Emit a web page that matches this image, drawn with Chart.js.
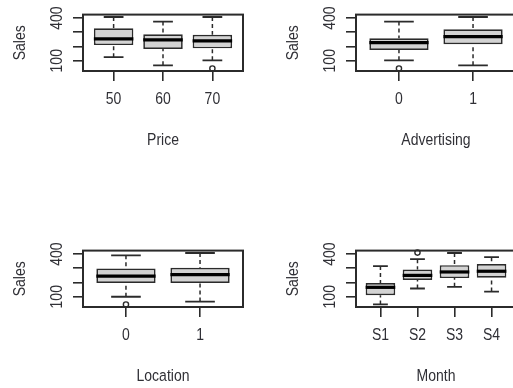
<!DOCTYPE html>
<html>
<head>
<meta charset="utf-8">
<script src="https://cdn.jsdelivr.net/npm/chart.js@4.4.1/dist/chart.umd.min.js"></script>
<style>
  html, body { margin: 0; padding: 0; background: #ffffff; }
  body { position: relative; width: 513px; height: 388px; overflow: hidden; }
  canvas { position: absolute; }
</style>
</head>
<body>
<canvas id="pricePanel"></canvas>
<canvas id="advertisingPanel"></canvas>
<canvas id="locationPanel"></canvas>
<canvas id="monthPanel"></canvas>
<script>
// Sales by Price
const priceCategories = ['50', '60', '70'];
const priceLow      = [125,  68, 103];
const priceQ1       = [210, 183, 187];
const priceMedian   = [253, 247, 240];
const priceQ3       = [328, 286, 283];
const priceHigh     = [407, 375, 407];
const priceOutliers = [[], [], [46]];

// Sales by Advertising
const advertisingCategories = ['0', '1'];
const advertisingLow      = [103,  68];
const advertisingQ1       = [176, 216];
const advertisingMedian   = [227, 270];
const advertisingQ3       = [258, 321];
const advertisingHigh     = [375, 407];
const advertisingOutliers = [[46], []];

// Sales by Location
const locationCategories = ['0', '1'];
const locationLow      = [100,  66];
const locationQ1       = [197, 197];
const locationMedian   = [245, 255];
const locationQ3       = [298, 303];
const locationHigh     = [391, 407];
const locationOutliers = [[46], []];

// Sales by Month
const monthCategories = ['S1', 'S2', 'S3', 'S4'];
const monthLow      = [ 46, 158, 170, 136];
const monthQ1       = [110, 218, 231, 233];
const monthMedian   = [166, 250, 274, 279];
const monthQ3       = [197, 291, 322, 330];
const monthHigh     = [315, 364, 407, 378];
const monthOutliers = [[], [410], [], []];

// Shared vertical axis
const salesTicks = [100, 200, 300, 400];
const salesTickLabels = ['100', '', '', '400'];
const salesMin = 28;
const salesMax = 424;
const salesTitle = 'Sales';

const INK = '#2b2b2b';
const TEXT_INK = '#303036';
const BOX_FILL = '#d3d3d3';
const FONT = '14px "Liberation Sans", Arial, sans-serif';
const TEXT_STRETCH = 1.12;

// Panel geometry (canvas-relative)
const PANEL_W = 273, PANEL_H = 160;
const PLOT_LEFT = 83, PLOT_RIGHT = 243, PLOT_TOP = 14.6, PLOT_BOTTOM = 71;

function drawText(ctx, text, x, y, rotated) {
  ctx.save();
  ctx.translate(x, y);
  if (rotated) ctx.rotate(-Math.PI / 2);
  ctx.scale(1, TEXT_STRETCH);
  ctx.fillText(text, 0, 0);
  ctx.restore();
}

const boxplotExtras = {
  id: 'boxplotExtras',
  afterDatasetsDraw(chart) {
    const ctx = chart.ctx;
    const xs = chart.scales.x, ys = chart.scales.y;
    const st = chart.options.plugins.boxplotExtras;
    const half = Math.abs(xs.getPixelForValue(1.4) - xs.getPixelForValue(1));
    ctx.save();
    st.categories.forEach((c, i) => {
      const cx = xs.getPixelForValue(i + 1);
      const yLo = ys.getPixelForValue(st.low[i]);
      const yQ1 = ys.getPixelForValue(st.q1[i]);
      const yMed = ys.getPixelForValue(st.median[i]);
      const yQ3 = ys.getPixelForValue(st.q3[i]);
      const yHi = ys.getPixelForValue(st.high[i]);
      // whiskers
      ctx.strokeStyle = INK;
      ctx.lineWidth = 1.5;
      ctx.setLineDash([4, 3]);
      ctx.beginPath();
      ctx.moveTo(cx, yHi); ctx.lineTo(cx, yQ3);
      ctx.moveTo(cx, yLo); ctx.lineTo(cx, yQ1);
      ctx.stroke();
      ctx.setLineDash([]);
      // staples
      ctx.lineWidth = 1.8;
      ctx.beginPath();
      ctx.moveTo(cx - half / 2, yHi); ctx.lineTo(cx + half / 2, yHi);
      ctx.moveTo(cx - half / 2, yLo); ctx.lineTo(cx + half / 2, yLo);
      ctx.stroke();
      // median
      ctx.strokeStyle = '#000';
      ctx.lineWidth = 3.2;
      ctx.beginPath();
      ctx.moveTo(cx - half, yMed); ctx.lineTo(cx + half, yMed);
      ctx.stroke();
      // outliers
      ctx.strokeStyle = INK;
      ctx.lineWidth = 1.4;
      st.outliers[i].forEach(v => {
        ctx.beginPath();
        ctx.arc(cx, ys.getPixelForValue(v), 2.6, 0, Math.PI * 2);
        ctx.stroke();
      });
    });
    ctx.restore();
  },
  afterDraw(chart) {
    const ctx = chart.ctx;
    const a = chart.chartArea;
    const xs = chart.scales.x, ys = chart.scales.y;
    const st = chart.options.plugins.boxplotExtras;
    ctx.save();
    // frame
    ctx.strokeStyle = INK;
    ctx.lineWidth = 2;
    ctx.strokeRect(a.left, a.top, a.right - a.left, a.bottom - a.top);
    // text
    ctx.fillStyle = TEXT_INK;
    ctx.font = FONT;
    ctx.textAlign = 'center';
    ctx.textBaseline = 'middle';
    salesTicks.forEach((v, i) => {
      if (salesTickLabels[i]) drawText(ctx, salesTickLabels[i], a.left - 25.5, ys.getPixelForValue(v), true);
    });
    drawText(ctx, salesTitle, a.left - 62, (a.top + a.bottom) / 2, true);
    st.categories.forEach((c, i) => {
      drawText(ctx, c, xs.getPixelForValue(i + 1), a.bottom + 29, false);
    });
    drawText(ctx, st.title, (a.left + a.right) / 2, a.bottom + 70, false);
    ctx.restore();
  }
};

function boxPanel(id, left, top, title, categories, low, q1, median, q3, high, outliers) {
  const canvas = document.getElementById(id);
  canvas.width = PANEL_W; canvas.height = PANEL_H;
  canvas.style.left = left + 'px'; canvas.style.top = top + 'px';
  canvas.style.width = PANEL_W + 'px'; canvas.style.height = PANEL_H + 'px';
  const n = categories.length;
  const tickGrid = { display: true, offset: false, drawOnChartArea: false, drawTicks: true, tickLength: 10, color: INK, lineWidth: 1.6 };
  return new Chart(canvas, {
    type: 'bar',
    data: {
      datasets: [{
        data: categories.map((c, i) => ({ x: i + 1, y: [q1[i], q3[i]] })),
        backgroundColor: BOX_FILL,
        borderColor: INK,
        borderWidth: 1.7,
        borderSkipped: false,
        barPercentage: 0.8,
        categoryPercentage: 1,
        grouped: false
      }]
    },
    options: {
      responsive: false,
      animation: false,
      devicePixelRatio: 1,
      layout: { padding: { left: 0, top: PLOT_TOP, right: PANEL_W - PLOT_RIGHT, bottom: 0 } },
      plugins: {
        legend: { display: false },
        tooltip: { enabled: false },
        boxplotExtras: { title, categories, low, q1, median, q3, high, outliers }
      },
      scales: {
        x: {
          type: 'linear',
          offset: false,
          min: 0.5 - 0.04 * n,
          max: n + 0.5 + 0.04 * n,
          afterBuildTicks: ax => { ax.ticks = categories.map((c, i) => ({ value: i + 1 })); },
          afterFit: ax => { ax.height = PANEL_H - PLOT_BOTTOM; },
          ticks: { display: false },
          grid: tickGrid,
          border: { display: false }
        },
        y: {
          type: 'linear',
          min: salesMin,
          max: salesMax,
          afterBuildTicks: ax => { ax.ticks = salesTicks.map(v => ({ value: v })); },
          afterFit: ax => { ax.width = PLOT_LEFT; },
          ticks: { display: false },
          grid: tickGrid,
          border: { display: false }
        }
      }
    },
    plugins: [boxplotExtras]
  });
}

boxPanel('pricePanel', 0, 0, 'Price', priceCategories,
  priceLow, priceQ1, priceMedian, priceQ3, priceHigh, priceOutliers);
boxPanel('advertisingPanel', 273, 0, 'Advertising', advertisingCategories,
  advertisingLow, advertisingQ1, advertisingMedian, advertisingQ3, advertisingHigh, advertisingOutliers);
boxPanel('locationPanel', 0, 236, 'Location', locationCategories,
  locationLow, locationQ1, locationMedian, locationQ3, locationHigh, locationOutliers);
boxPanel('monthPanel', 273, 236, 'Month', monthCategories,
  monthLow, monthQ1, monthMedian, monthQ3, monthHigh, monthOutliers);
</script>
</body>
</html>
